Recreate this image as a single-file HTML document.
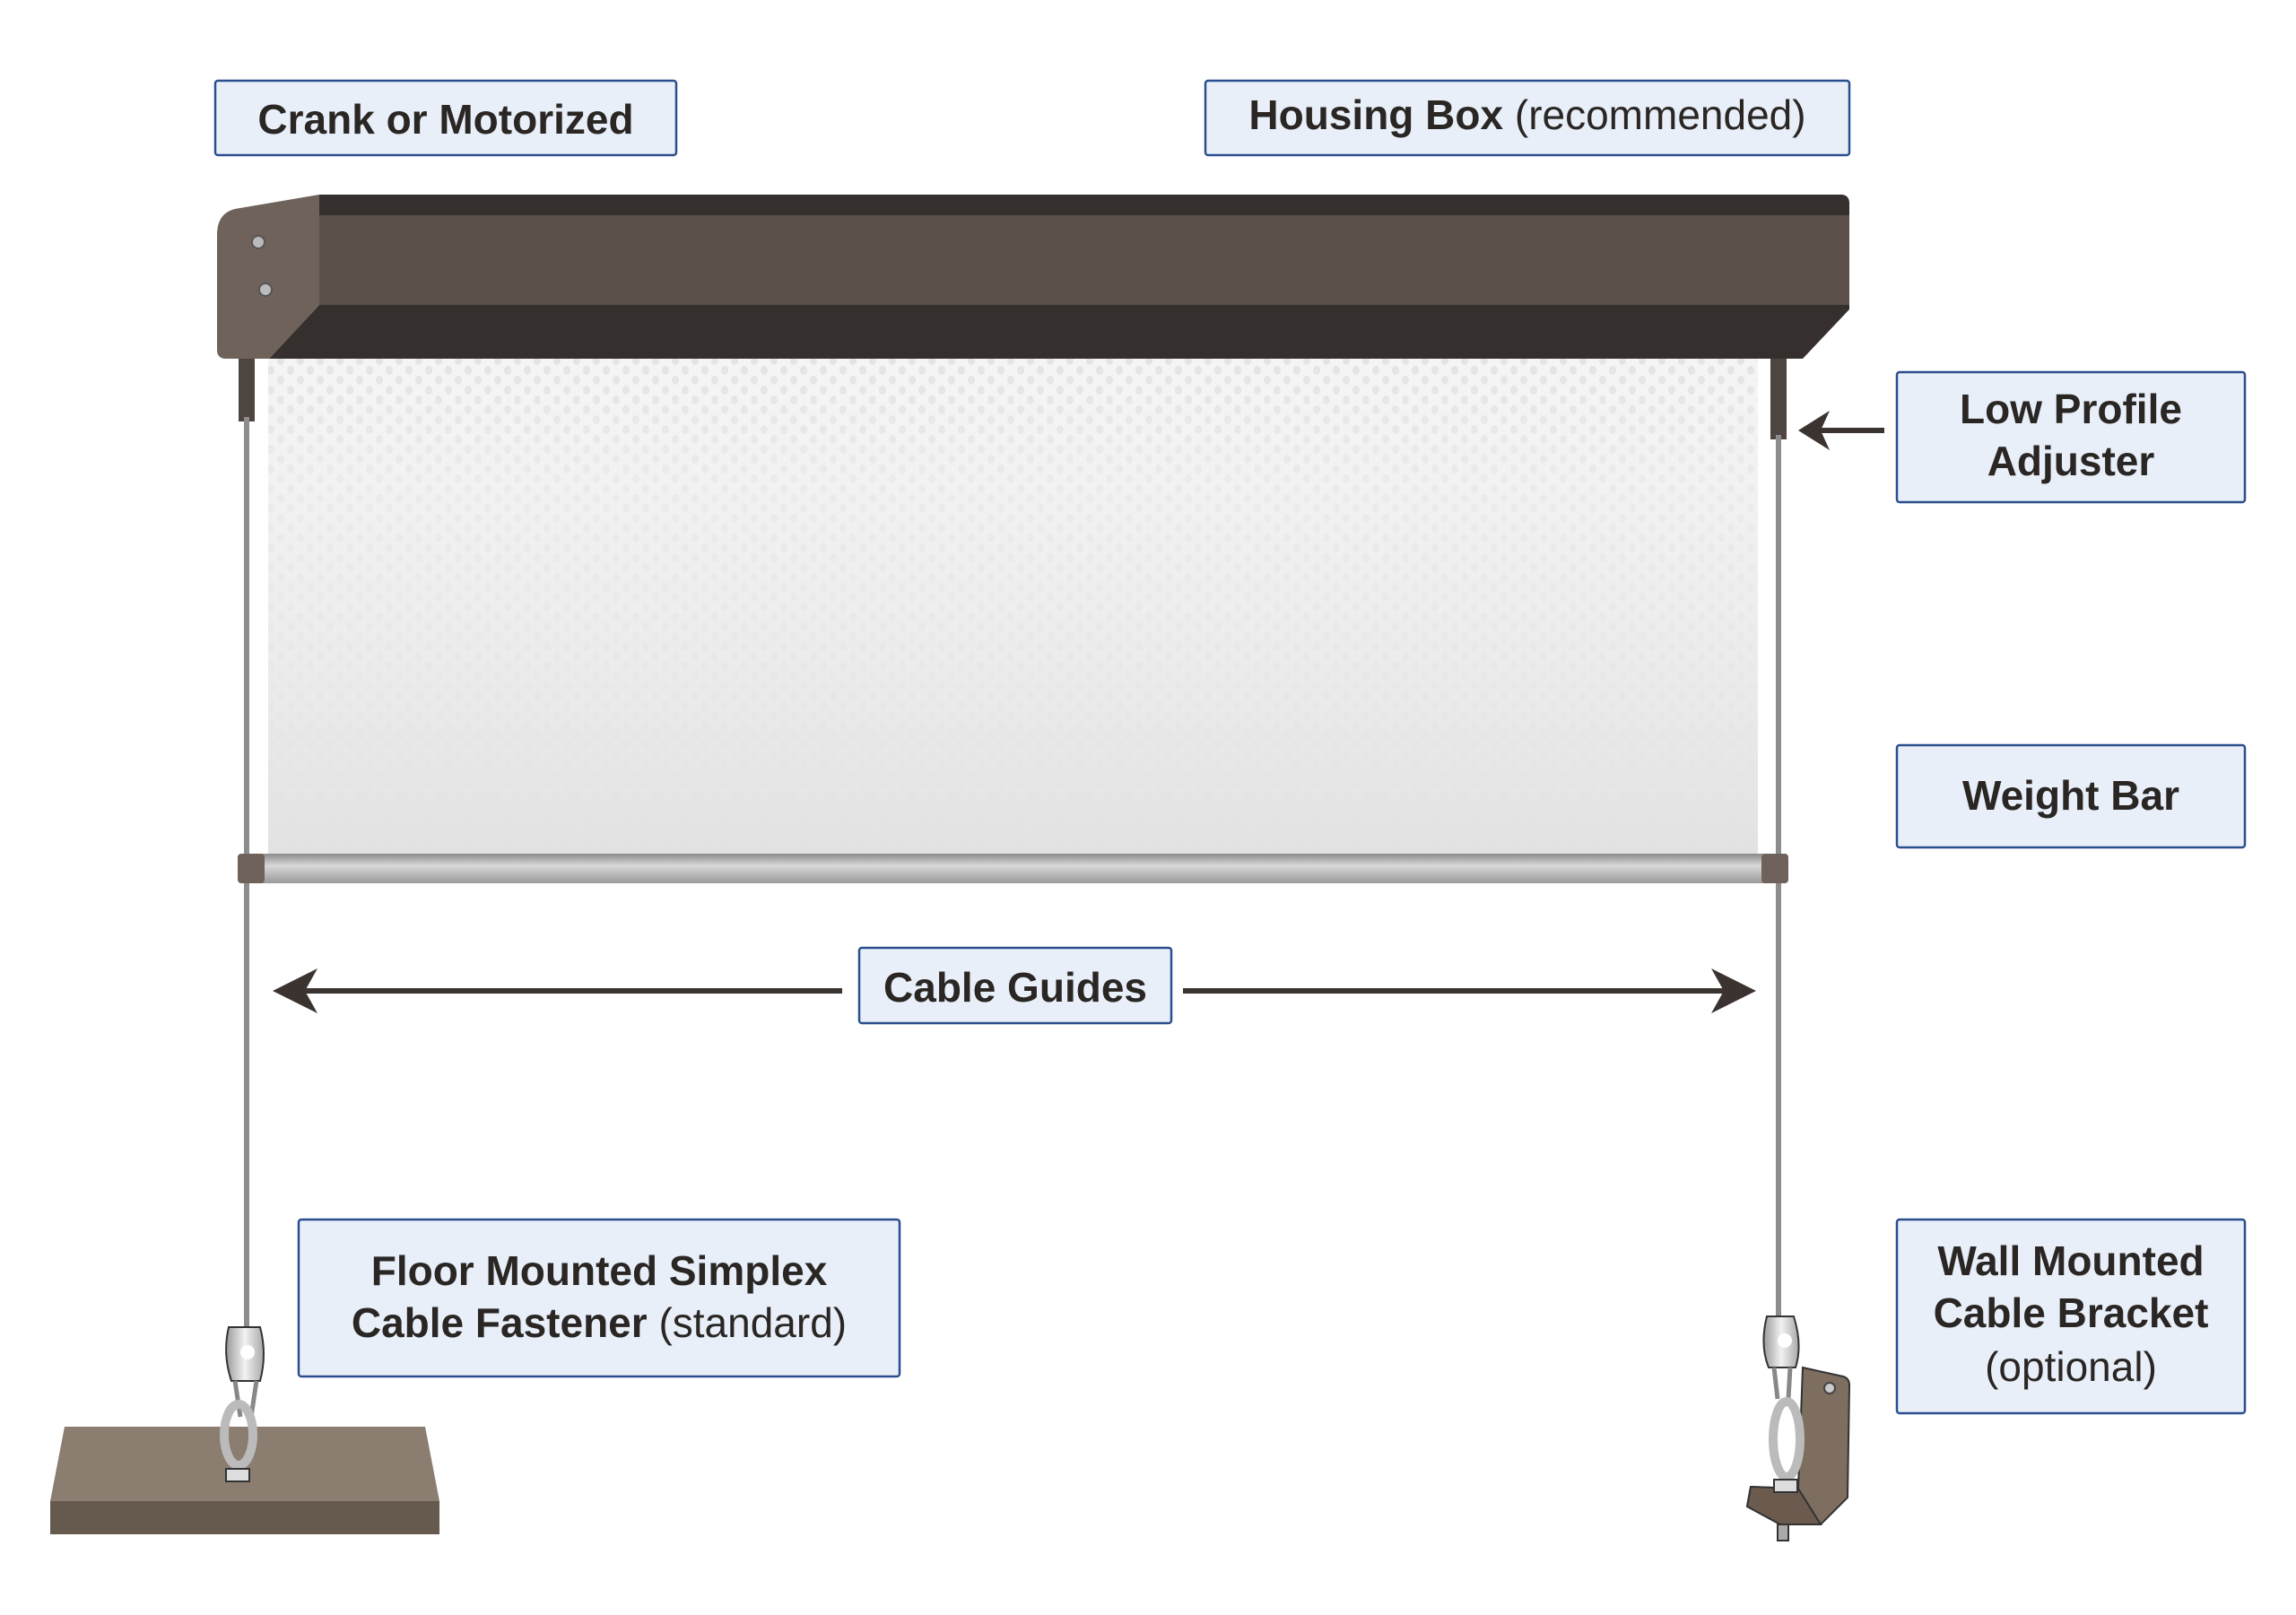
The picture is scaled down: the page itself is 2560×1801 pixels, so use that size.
<!DOCTYPE html>
<html><head><meta charset="utf-8"><style>
html,body{margin:0;padding:0;background:#fff;}
svg{display:block;}
text{font-family:"Liberation Sans",sans-serif;fill:#2a2624;}
</style></head><body>
<svg width="2560" height="1801" viewBox="0 0 2560 1801" xmlns="http://www.w3.org/2000/svg">
<defs>
<pattern id="dots" width="22" height="22" patternUnits="userSpaceOnUse">
<ellipse cx="5" cy="6" rx="4" ry="5" fill="#e4e4e4"/>
<ellipse cx="16" cy="17" rx="4" ry="5" fill="#e4e4e4"/>
</pattern>
<linearGradient id="fade" x1="0" y1="0" x2="0" y2="1">
<stop offset="0" stop-color="#f2f2f2" stop-opacity="0"/>
<stop offset="0.25" stop-color="#f0f0f0" stop-opacity="0.6"/>
<stop offset="1" stop-color="#e2e2e2" stop-opacity="1"/>
</linearGradient>
<linearGradient id="bar" x1="0" y1="0" x2="0" y2="1">
<stop offset="0" stop-color="#8a8a8a"/><stop offset="0.4" stop-color="#d8d8d8"/><stop offset="1" stop-color="#9a9a9a"/>
</linearGradient>
<linearGradient id="metal" x1="0" y1="0" x2="1" y2="0">
<stop offset="0" stop-color="#9a9a9a"/><stop offset="0.5" stop-color="#f2f2f2"/><stop offset="1" stop-color="#a8a8a8"/>
</linearGradient>
</defs>

<!-- screen -->
<rect x="299" y="400" width="1661" height="555" fill="#f4f4f4"/>
<rect x="299" y="400" width="1661" height="555" fill="url(#dots)"/>
<rect x="299" y="400" width="1661" height="555" fill="url(#fade)"/>

<!-- housing -->
<path d="M356 217 L2052 217 Q2062 217 2062 227 L2062 340 L2000 400 L356 400 Z" fill="#5a4f49"/>
<path d="M356 217 L2052 217 Q2062 217 2062 227 L2062 240 L356 240 Z" fill="#35302d"/>
<path d="M356 340 L2062 340 L2062 345 L2010 400 L300 400 Z" fill="#35302d"/>
<path d="M356 217 L262 233 Q242 238 242 262 L242 390 Q242 400 252 400 L300 400 L356 340 Z" fill="#6e625b"/>
<circle cx="288" cy="270" r="7" fill="#bbb" stroke="#555" stroke-width="2"/>
<circle cx="296" cy="323" r="7" fill="#bbb" stroke="#555" stroke-width="2"/>

<!-- adjuster posts -->
<rect x="266" y="400" width="18" height="70" fill="#4e4540"/>
<rect x="1974" y="400" width="18" height="90" fill="#4e4540"/>

<!-- cables -->
<line x1="275" y1="465" x2="275" y2="1500" stroke="#8d8d8d" stroke-width="6"/>
<line x1="1983" y1="485" x2="1983" y2="1480" stroke="#8d8d8d" stroke-width="6"/>

<!-- weight bar -->
<rect x="265" y="952" width="1729" height="33" rx="5" fill="url(#bar)"/>
<rect x="265" y="952" width="30" height="33" rx="4" fill="#6e625b"/>
<rect x="1964" y="952" width="30" height="33" rx="4" fill="#6e625b"/>

<!-- floor plate -->
<path d="M72 1591 L474 1591 L490 1674 L56 1674 Z" fill="#8b7d6f"/>
<rect x="56" y="1674" width="434" height="37" fill="#66594d"/>

<!-- left fastener -->
<g stroke="#333" stroke-width="2">
<path d="M255 1480 Q248 1510 258 1540 L290 1540 Q298 1510 290 1480 Z" fill="url(#metal)"/>
<circle cx="276" cy="1508" r="8" fill="#fff" stroke="none"/>
<path d="M262 1540 L268 1580 M286 1540 L280 1580" fill="none" stroke="#888" stroke-width="5"/>
<ellipse cx="266" cy="1600" rx="16" ry="34" fill="none" stroke="#bbb" stroke-width="10"/>
<rect x="252" y="1638" width="26" height="14" fill="#ddd"/>
</g>

<!-- right bracket + fastener -->
<path d="M2010 1525 L2055 1535 Q2062 1537 2062 1545 L2060 1670 L2030 1700 L1985 1700 L1948 1680 L1952 1658 L2005 1660 Z" fill="#7d6e60" stroke="#333" stroke-width="2"/>
<path d="M1952 1658 L2005 1660 L2030 1700 L1985 1700 L1948 1680 Z" fill="#6a5b4e" stroke="#333" stroke-width="2"/>
<circle cx="2040" cy="1548" r="6" fill="#ccc" stroke="#444" stroke-width="2"/>
<g stroke="#333" stroke-width="2">
<path d="M1970 1468 Q1962 1500 1972 1525 L2002 1525 Q2010 1500 2000 1468 Z" fill="url(#metal)"/>
<circle cx="1990" cy="1495" r="8" fill="#fff" stroke="none"/>
<path d="M1978 1525 L1982 1560 M1996 1525 L1994 1560" fill="none" stroke="#888" stroke-width="5"/>
<ellipse cx="1992" cy="1605" rx="15" ry="42" fill="none" stroke="#bbb" stroke-width="10"/>
<rect x="1978" y="1650" width="26" height="14" fill="#ddd"/>
<rect x="1982" y="1700" width="12" height="18" fill="#aaa"/>
</g>

<!-- labels -->
<g fill="#e8eff8" stroke="#2b4f8e" stroke-width="2.5">
<rect x="240" y="90" width="514" height="83" rx="3"/>
<rect x="1344" y="90" width="718" height="83" rx="3"/>
<rect x="2115" y="415" width="388" height="145" rx="3"/>
<rect x="2115" y="831" width="388" height="114" rx="3"/>
<rect x="958" y="1057" width="348" height="84" rx="3"/>
<rect x="333" y="1360" width="670" height="175" rx="3"/>
<rect x="2115" y="1360" width="388" height="216" rx="3"/>
</g>
<g font-size="46" font-weight="bold" text-anchor="middle">
<text x="497" y="149">Crank or Motorized</text>
<text x="1703" y="144">Housing Box <tspan font-weight="normal">(recommended)</tspan></text>
<text x="2309" y="472">Low Profile</text>
<text x="2309" y="530">Adjuster</text>
<text x="2309" y="903">Weight Bar</text>
<text x="1132" y="1117">Cable Guides</text>
<text x="668" y="1433">Floor Mounted Simplex</text>
<text x="668" y="1491">Cable Fastener <tspan font-weight="normal">(standard)</tspan></text>
<text x="2309" y="1422">Wall Mounted</text>
<text x="2309" y="1480">Cable Bracket</text>
<text x="2309" y="1540" font-weight="normal">(optional)</text>
</g>

<!-- arrows -->
<g stroke="#3a3330" stroke-width="6" fill="#3a3330">
<line x1="2101" y1="480" x2="2025" y2="480"/>
<path d="M2005 480 L2040 458 L2030 480 L2040 502 Z" stroke="none"/>
<line x1="939" y1="1105" x2="330" y2="1105"/>
<path d="M304 1105 L354 1080 L340 1105 L354 1130 Z" stroke="none"/>
<line x1="1319" y1="1105" x2="1930" y2="1105"/>
<path d="M1958 1105 L1908 1080 L1922 1105 L1908 1130 Z" stroke="none"/>
</g>
</svg>
</body></html>
